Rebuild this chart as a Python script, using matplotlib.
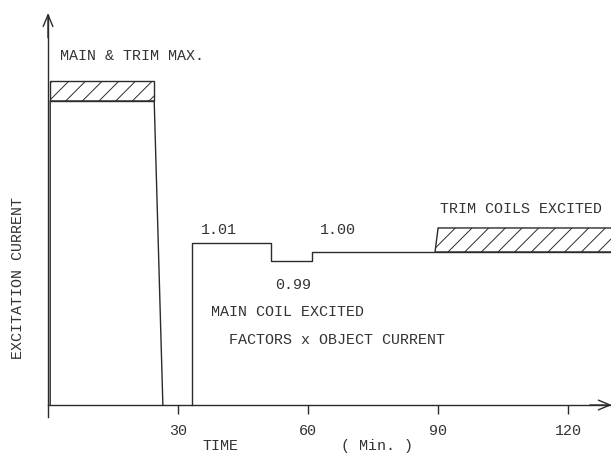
"""Excitation current vs time sketch (main coil + trim coils)."""
import matplotlib
matplotlib.use("Agg")
import matplotlib.pyplot as plt
from matplotlib.patches import Polygon

INK = "#2b2b2b"
FONT = "Liberation Mono"

# --- data (minutes, current relative to object current) ---
x_ticks = [30, 60, 90, 120]
x_tick_labels = ["30", "60", "90", "120"]

# max excitation pulse (main & trim)
max_t = [0.5, 0.5, 24.5, 26.5]
max_y = [0.0, 1.987, 1.987, 0.0]
max_band_t = [0.5, 0.5, 24.5, 24.5]
max_band_y = [1.987, 2.118, 2.118, 1.987]

# main coil excited with factors x object current
coil_t = [33.2, 33.2, 51.5, 51.5, 60.9, 60.9, 132.0]
coil_y = [0.0, 1.059, 1.059, 0.941, 0.941, 1.0, 1.0]
factor_labels = ["1.01", "0.99", "1.00"]

# trim coils excited on top of main level
trim_t = [89.3, 90.0, 132.0, 132.0]
trim_y = [1.0, 1.157, 1.157, 1.0]

plt.rcParams["font.family"] = [FONT, "DejaVu Sans Mono"]
plt.rcParams["hatch.linewidth"] = 0.7

fig = plt.figure(figsize=(6.11, 4.53), dpi=100)
ax = fig.add_axes([0, 0, 1, 1])
ax.set_xlim(-11.08, 129.9)
ax.set_ylim(-0.3137, 2.647)

# hatched bands
for bt, by in ((max_band_t, max_band_y), (trim_t, trim_y)):
    ax.add_patch(Polygon(list(zip(bt, by)), closed=True, facecolor="white",
                         edgecolor=INK, hatch="//", lw=1.0))

ax.plot(max_t, max_y, color=INK, lw=1.0)
ax.plot(coil_t, coil_y, color=INK, lw=1.0)

# axes as arrows
for s in ("top", "right"):
    ax.spines[s].set_visible(False)
ax.spines["bottom"].set_position(("data", 0))
ax.spines["left"].set_position(("data", 0))
ax.spines["bottom"].set_bounds(0, 129.6)
ax.spines["left"].set_bounds(-0.08, 2.55)
for s in ("bottom", "left"):
    ax.spines[s].set_color(INK)
    ax.spines[s].set_linewidth(1.0)
ax.set_yticks([])
ax.set_xticks(x_ticks, x_tick_labels)
ax.tick_params(axis="x", direction="out", length=6.5, width=1.0, color=INK,
               pad=7, labelsize=10.8, labelcolor="#333333")

arrow = dict(arrowstyle="->,head_length=0.6,head_width=0.25", color=INK,
             lw=1.0, shrinkA=0, shrinkB=0, mutation_scale=14)
ax.annotate("", xy=(130.1, 0), xytext=(125, 0), arrowprops=arrow,
            annotation_clip=False)
ax.annotate("", xy=(0, 2.562), xytext=(0, 2.4), arrowprops=arrow,
            annotation_clip=False)

txt = dict(fontsize=10.8, color="#333333", va="center")
ax.text(2.77, 2.281, "MAIN & TRIM MAX.", **txt)
ax.text(35.3, 1.144, factor_labels[0], **txt)
ax.text(52.4, 0.784, factor_labels[1], **txt)
ax.text(62.8, 1.144, factor_labels[2], **txt)
ax.text(37.6, 0.608, "MAIN COIL EXCITED", **txt)
ax.text(41.8, 0.425, "FACTORS x OBJECT CURRENT", **txt)
ax.text(90.5, 1.281, "TRIM COILS EXCITED", **txt)
ax.text(39.9, -0.268, "TIME", ha="center", **txt)
ax.text(75.9, -0.268, "( Min. )", ha="center", **txt)
ax.text(-6.92, 0.830, "EXCITATION CURRENT", rotation=90, ha="center", **txt)

fig.savefig("out.png", dpi=100)
